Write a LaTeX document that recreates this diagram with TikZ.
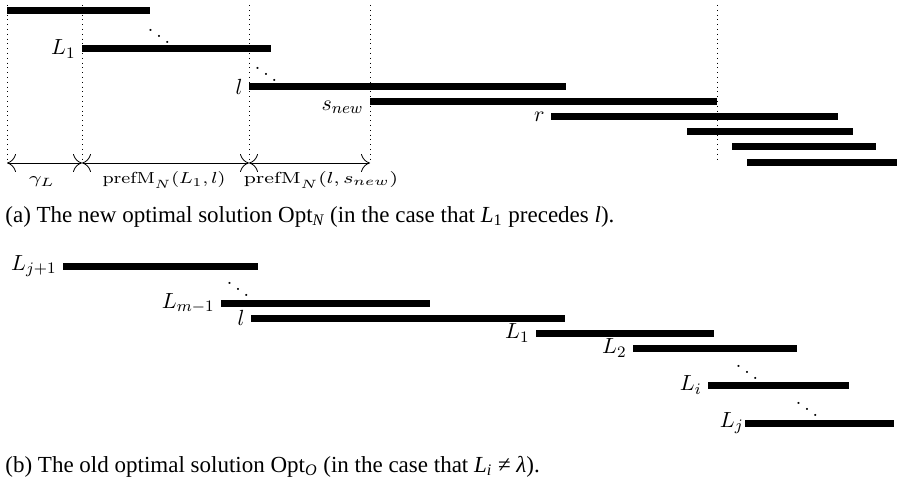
\documentclass[tikz,border=0pt]{standalone}
\usepackage{amsmath,amssymb}
\usepackage{fontspec}
\newfontfamily\capfont{Liberation Serif}
\usetikzlibrary{arrows.meta,positioning}

\begin{document}
\begin{tikzpicture}[x=0.5pt, y=-0.5pt,
    every node/.style={font=\fontsize{11}{13}\selectfont},
    seg/.style={line width=3.5pt},
    guide/.style={dotted},
    span/.style={{To[length=4.5pt,width=9pt]}-{To[length=4.5pt,width=9pt]}},
    lab/.style={left, inner sep=3pt},
    dimlab/.style={anchor=base, font=\fontsize{8}{9}\selectfont, transform shape, xscale=#1},
    dimlab/.default=1.18,
    capt/.style={anchor=base west, inner sep=0pt, font=\capfont\fontsize{11.5}{14}\selectfont}]
  \useasboundingbox (0,0) rectangle (897,486);

  % (a) the new solution
  \draw[seg] (7,11)    coordinate (a0)  -- (150,11);
  \draw[seg] (82,49)   coordinate (aL1) -- (271,49);
  \draw[seg] (249,87)  coordinate (al)  -- (566,87);
  \draw[seg] (370,102) coordinate (asn) -- (717,102) coordinate (asne);
  \draw[seg] (551,117) coordinate (ar)  -- (838,117);
  \draw[seg] (687,132) -- (853,132);
  \draw[seg] (732,147) -- (876,147);
  \draw[seg] (747,163) -- (897,163);
  \node[lab] (nL1) at (aL1) {$L_1$};
  \node[lab] (nl)  at (al)  {$l$};
  \node[lab, yshift=-2.5pt] (nsn) at (asn) {$s_{new}$};
  \node[lab] (nr)  at (ar)  {$r$};
  \node (da1) at (159,30) {$\ddots$};
  \node (da2) at (266,68) {$\ddots$};

  % guides and widths
  \coordinate (t0) at (7,163);
  \coordinate (t1) at (82,163);
  \coordinate (t2) at (249,163);
  \coordinate (t3) at (370,163);
  \foreach \t/\x in {t0/7, t1/82, t2/249, t3/370}
    \draw[guide] (\x,5) -- (\t);
  \draw[guide] (717,5) -- (717,160);
  \draw[span] (t0) -- (t1);
  \draw[span] (t1) -- (t2);
  \draw[span] (t2) -- (t3);
  \node[dimlab=1.3] (w0) at (42,184)  {$\gamma_L$};
  \node[dimlab] (w1) at (164,184) {$\mathrm{prefM}_N(L_1,l)$};
  \node[dimlab=1.28] (w2) at (321,184) {$\mathrm{prefM}_N(l,s_{new})$};
  \node[capt] (capa) at (5,222) {(a) The new optimal solution Opt\textsubscript{\itshape N} (in the case that \textit{L}\textsubscript{1} precedes \textit{l}).};

  % (b) the old solution
  \draw[seg] (63,266)  coordinate (bLj1) -- (258,266);
  \draw[seg] (221,303) coordinate (bLm1) -- (430,303);
  \draw[seg] (251,318) coordinate (bl)   -- (565,318);
  \draw[seg] (536,333) coordinate (bL1)  -- (714,333);
  \draw[seg] (633,348) coordinate (bL2)  -- (797,348);
  \draw[seg] (708,385) coordinate (bLi)  -- (849,385);
  \draw[seg] (745,423) coordinate (bLj)  -- (894,423);
  \node[lab] (nLj1) at (bLj1) {$L_{j+1}$};
  \node[lab] (nLm1) at (bLm1) {$L_{m-1}$};
  \node[lab] (nbl)  at (bl)   {$l$};
  \node[lab] (nbL1) at (bL1)  {$L_1$};
  \node[lab] (nbL2) at (bL2)  {$L_2$};
  \node[lab] (nbLi) at (bLi)  {$L_i$};
  \node[lab, inner sep=0.5pt] (nbLj) at (bLj) {$L_j$};
  \node (db1) at (238,283) {$\ddots$};
  \node (db2) at (747,366) {$\ddots$};
  \node (db3) at (807,403) {$\ddots$};
  \node[capt] (capb) at (5,472) {(b) The old optimal solution Opt\textsubscript{\itshape O} (in the case that \textit{L}\textsubscript{\itshape i} ≠ \textit{λ}).};
\end{tikzpicture}
\end{document}
